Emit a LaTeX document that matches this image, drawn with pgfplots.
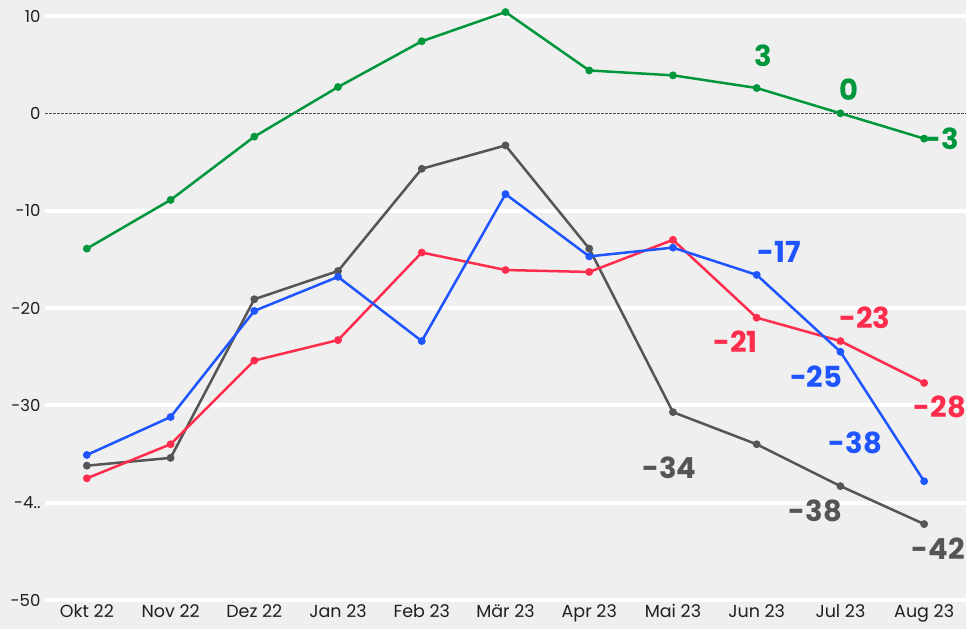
\documentclass[border=0pt]{standalone}
\usepackage{pgfplots}
\pgfplotsset{compat=1.18}
\usepackage{fontspec}
\setmainfont{Poppins}
\definecolor{bg}{HTML}{EFEFEF}
\definecolor{cgreen}{HTML}{00963C}
\definecolor{cred}{HTML}{FF2D4D}
\definecolor{cblue}{HTML}{1F55FF}
\definecolor{cgray}{HTML}{555555}
\begin{document}
\begin{tikzpicture}[x=1pt,y=1pt]
\fill[bg] (0,0) rectangle (966,629);
\begin{axis}[
  at={(45pt,29pt)}, anchor=south west,
  scale only axis, width=921pt, height=600pt,
  xmin=-0.5, xmax=10.5, ymin=-50, ymax=11.64,
  axis line style={draw=none},
  xtick={0,...,10},
  xticklabels={Okt 22,Nov 22,Dez 22,Jan 23,Feb 23,Mär 23,Apr 23,Mai 23,Jun 23,Jul 23,Aug 23},
  minor xtick={0.5,1.5,...,9.5},
  minor tick length=4pt, major tick length=0pt,
  tick align=outside,
  minor tick style={white, line width=0.8pt},
  ytick={-50,-40,-30,-20,-10,10},
  yticklabels={-50,-4..,-30,-20,-10,10},
  extra y ticks={0}, extra y tick labels={0},
  extra y tick style={major grid style={black!70, dash pattern=on 2.5pt off 1.5pt, line width=0.9pt}},
  ymajorgrids,
  major grid style={white, line width=4pt},
  /pgf/number format/assume math mode=true,
  tick label style={text=black!88},
  xticklabel style={font=\fontsize{17.5}{20}\selectfont, yshift=-1pt},
  yticklabel style={font=\fontsize{16.5}{19}\selectfont, xshift=-1pt},
  clip=false,
  every axis plot/.append style={line width=2.5pt, mark=*, mark size=2.6pt},
]
\addplot[cgreen, mark options={fill=cgreen}] coordinates {(0,-13.9) (1,-8.9) (2,-2.4) (3,2.7) (4,7.4) (5,10.4) (6,4.4) (7,3.9) (8,2.6) (9,0.0) (10,-2.6)};
\addplot[cgray, mark options={fill=cgray}] coordinates {(0,-36.2) (1,-35.4) (2,-19.1) (3,-16.2) (4,-5.7) (5,-3.3) (6,-13.9) (7,-30.7) (8,-34.0) (9,-38.3) (10,-42.2)};
\addplot[cred, mark options={fill=cred}] coordinates {(0,-37.5) (1,-34.0) (2,-25.4) (3,-23.3) (4,-14.3) (5,-16.1) (6,-16.3) (7,-13.0) (8,-21.0) (9,-23.4) (10,-27.7)};
\addplot[cblue, mark options={fill=cblue}] coordinates {(0,-35.1) (1,-31.2) (2,-20.3) (3,-16.8) (4,-23.4) (5,-8.3) (6,-14.7) (7,-13.8) (8,-16.6) (9,-24.5) (10,-37.8)};
\begin{scope}[every node/.style={inner sep=0pt, font=\fontsize{29}{33}\selectfont\bfseries}]
\node[text=cgreen] at (axis cs:8.08,5.9) {3};
\node[text=cgreen] at (axis cs:9.10,2.4) {0};
\node[text=cgreen] at (axis cs:10.21,-2.6) {-3};
\node[text=cblue] at (axis cs:8.27,-14.2) {-17};
\node[text=cblue] at (axis cs:8.71,-27.1) {-25};
\node[text=cblue] at (axis cs:9.18,-33.9) {-38};
\node[text=cred] at (axis cs:7.75,-23.5) {-21};
\node[text=cred] at (axis cs:9.29,-21.0) {-23};
\node[text=cred] at (axis cs:10.19,-30.2) {-28};
\node[text=cgray] at (axis cs:6.96,-36.4) {-34};
\node[text=cgray] at (axis cs:8.70,-40.8) {-38};
\node[text=cgray] at (axis cs:10.17,-44.7) {-42};
\end{scope}
\end{axis}
\pgfresetboundingbox
\path (0,0) rectangle (966,629);
\end{tikzpicture}
\end{document}
